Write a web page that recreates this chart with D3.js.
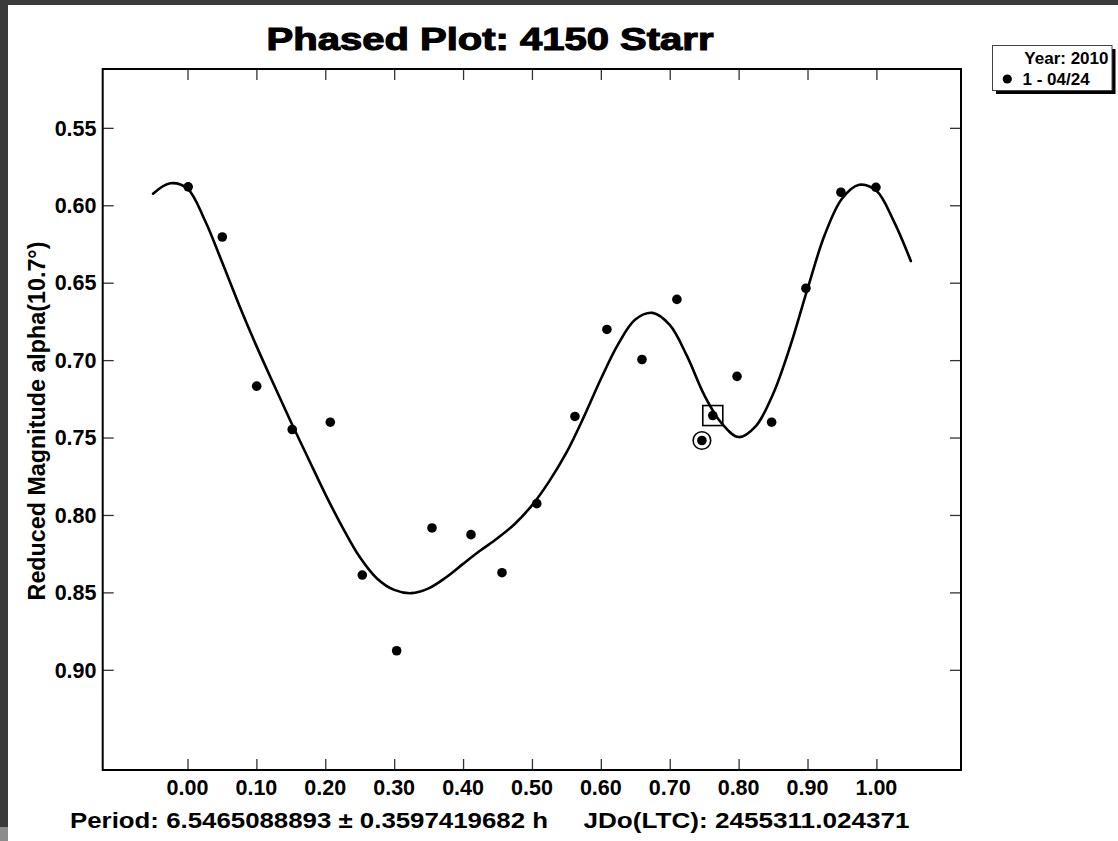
<!DOCTYPE html>
<html>
<head>
<meta charset="utf-8">
<script src="https://cdn.jsdelivr.net/npm/d3@7/dist/d3.min.js"></script>
<style>
  html, body { margin: 0; padding: 0; background: #fff; }
  svg { display: block; }
  text { font-family: "Liberation Sans", Arial, sans-serif; font-weight: bold; fill: #000; }
</style>
</head>
<body>
<script>
// ---- data ----
const obsPhase = [0.001, 0.0505, 0.1004, 0.152, 0.2073, 0.2537, 0.3036, 0.3549, 0.4115, 0.4565, 0.507,
                  0.5624, 0.6088, 0.6597, 0.7104, 0.7467, 0.7625, 0.7977, 0.8479, 0.8977, 0.9485, 0.9993];
const obsMag   = [0.5881, 0.6205, 0.7168, 0.7448, 0.7401, 0.8388, 0.8877, 0.8084, 0.8127, 0.8373, 0.7927,
                  0.7364, 0.6802, 0.6996, 0.6608, 0.7519, 0.7358, 0.7105, 0.7401, 0.6536, 0.5916, 0.5884];
const circledIndex = 15;   // point drawn with a ring
const boxedIndex = 16;     // point drawn with a square

const fitPhase = [-0.05, -0.025, 0.0, 0.025, 0.05, 0.075, 0.1, 0.125, 0.15, 0.175, 0.2, 0.225, 0.25, 0.275,
                  0.3, 0.325, 0.35, 0.375, 0.4, 0.425, 0.45, 0.475, 0.5, 0.525, 0.55, 0.575, 0.6, 0.625,
                  0.65, 0.675, 0.7, 0.725, 0.75, 0.775, 0.8, 0.825, 0.85, 0.875, 0.9, 0.925, 0.95, 0.975,
                  1.0, 1.025, 1.05];
const fitMag   = [0.5925, 0.5858, 0.5893, 0.6095, 0.6365, 0.6645, 0.6908, 0.7155, 0.7398, 0.7632, 0.7865,
                  0.8080, 0.8272, 0.8410, 0.8484, 0.8505, 0.8474, 0.8404, 0.8316, 0.8230, 0.8150, 0.8058,
                  0.7938, 0.7783, 0.7598, 0.7370, 0.7122, 0.6898, 0.6738, 0.6695, 0.6773, 0.6973, 0.7225,
                  0.7406, 0.7497, 0.7426, 0.7219, 0.6909, 0.6540, 0.6191, 0.5958, 0.5868, 0.5907, 0.6101, 0.6360];

const xTicks = [0.0, 0.1, 0.2, 0.3, 0.4, 0.5, 0.6, 0.7, 0.8, 0.9, 1.0];
const yTicks = [0.55, 0.60, 0.65, 0.70, 0.75, 0.80, 0.85, 0.90];

const titleText = "Phased Plot: 4150 Starr";
const yLabelText = "Reduced Magnitude alpha(10.7\u00B0)";
const periodText = "Period: 6.5465088893 \u00B1 0.3597419682 h";
const jdText = "JDo(LTC): 2455311.024371";
const legendTitle = "Year: 2010";
const legendSeries = ["1 - 04/24"];

// ---- layout ----
const W = 1118, H = 841;
const plot = { left: 102.7, right: 961, top: 69, bottom: 770 };

const svg = d3.select("body").append("svg").attr("width", W).attr("height", H);

// window chrome strips
svg.append("rect").attr("x", 0).attr("y", 0).attr("width", W).attr("height", 5).attr("fill", "#3a3a3a");
svg.append("rect").attr("x", 0).attr("y", 0).attr("width", 8).attr("height", 827).attr("fill", "#3a3a3a");
svg.append("rect").attr("x", 0).attr("y", 827).attr("width", 8).attr("height", H - 827).attr("fill", "#8c8c8c");

const x = d3.scaleLinear().domain([-0.1231, 1.1228]).range([plot.left, plot.right]);
const y = d3.scaleLinear().domain([0.5120, 0.9647]).range([plot.top, plot.bottom]);

const fmt = d3.format(".2f");
const tickLen = 11;

// axes (ticks pointing inward, labels drawn separately)
const gBottom = svg.append("g").attr("transform", `translate(0,${plot.bottom})`)
  .call(d3.axisTop(x).tickValues(xTicks).tickSize(tickLen).tickFormat(""));
const gTop = svg.append("g").attr("transform", `translate(0,${plot.top})`)
  .call(d3.axisBottom(x).tickValues(xTicks).tickSize(tickLen).tickFormat(""));
const gLeft = svg.append("g").attr("transform", `translate(${plot.left},0)`)
  .call(d3.axisRight(y).tickValues(yTicks).tickSize(tickLen).tickFormat(""));
const gRight = svg.append("g").attr("transform", `translate(${plot.right},0)`)
  .call(d3.axisLeft(y).tickValues(yTicks).tickSize(tickLen).tickFormat(""));
[gBottom, gTop, gLeft, gRight].forEach(g => {
  g.select(".domain").remove();
  g.selectAll(".tick line").attr("stroke", "#333").attr("stroke-width", 1.3);
});

// frame
svg.append("rect")
  .attr("x", plot.left).attr("y", plot.top)
  .attr("width", plot.right - plot.left).attr("height", plot.bottom - plot.top)
  .attr("fill", "none").attr("stroke", "#000").attr("stroke-width", 2);

// tick labels
svg.append("g").selectAll("text").data(xTicks).join("text")
  .attr("x", d => x(d)).attr("y", 795)
  .attr("text-anchor", "middle").attr("font-size", 21.5)
  .text(d => fmt(d));
svg.append("g").selectAll("text").data(yTicks).join("text")
  .attr("x", 96.5).attr("y", d => y(d) + 7.7)
  .attr("text-anchor", "end").attr("font-size", 21.5)
  .text(d => fmt(d));

// fitted curve
const line = d3.line().x(d => x(d[0])).y(d => y(d[1])).curve(d3.curveCatmullRom.alpha(0.5));
svg.append("path")
  .datum(fitPhase.map((p, i) => [p, fitMag[i]]))
  .attr("d", line)
  .attr("fill", "none").attr("stroke", "#000").attr("stroke-width", 2.6)
  .attr("stroke-linejoin", "round").attr("stroke-linecap", "round");

// observations
const pts = obsPhase.map((p, i) => ({ p, m: obsMag[i], i }));
svg.append("g").selectAll("circle").data(pts).join("circle")
  .attr("cx", d => x(d.p)).attr("cy", d => y(d.m)).attr("r", 4.8).attr("fill", "#000");

// markers
const cpt = pts[circledIndex];
svg.append("circle").attr("cx", x(cpt.p)).attr("cy", y(cpt.m)).attr("r", 8.8)
  .attr("fill", "none").attr("stroke", "#000").attr("stroke-width", 1.6);
const bpt = pts[boxedIndex];
svg.append("rect").attr("x", x(bpt.p) - 10).attr("y", y(bpt.m) - 10).attr("width", 20).attr("height", 20)
  .attr("fill", "none").attr("stroke", "#000").attr("stroke-width", 1.6);

// title
svg.append("text").attr("x", 266.5).attr("y", 50)
  .attr("font-size", 31).attr("stroke", "#000").attr("stroke-width", 1.1)
  .attr("textLength", 447).attr("lengthAdjust", "spacingAndGlyphs")
  .text(titleText);

// y label
svg.append("text")
  .attr("transform", "translate(45,421) rotate(-90)")
  .attr("text-anchor", "middle").attr("font-size", 23.3)
  .text(yLabelText);

// bottom info texts
svg.append("text").attr("x", 70).attr("y", 828).attr("font-size", 21.5)
  .attr("textLength", 478).attr("lengthAdjust", "spacingAndGlyphs").text(periodText);
svg.append("text").attr("x", 583.5).attr("y", 828).attr("font-size", 21.5)
  .attr("textLength", 326).attr("lengthAdjust", "spacingAndGlyphs").text(jdText);

// legend
const lg = svg.append("g");
lg.append("rect").attr("x", 996).attr("y", 49).attr("width", 119.5).attr("height", 45).attr("fill", "#000");
lg.append("rect").attr("x", 992.5).attr("y", 45.5).attr("width", 119.5).attr("height", 45)
  .attr("fill", "#fff").attr("stroke", "#444").attr("stroke-width", 1);
lg.append("text").attr("x", 1108.5).attr("y", 64).attr("text-anchor", "end").attr("font-size", 17).text(legendTitle);
legendSeries.forEach((s, i) => {
  lg.append("circle").attr("cx", 1007.3).attr("cy", 79 + i * 20).attr("r", 4.6).attr("fill", "#000");
  lg.append("text").attr("x", 1022.5).attr("y", 85 + i * 20).attr("font-size", 17).text(s);
});
</script>
</body>
</html>
